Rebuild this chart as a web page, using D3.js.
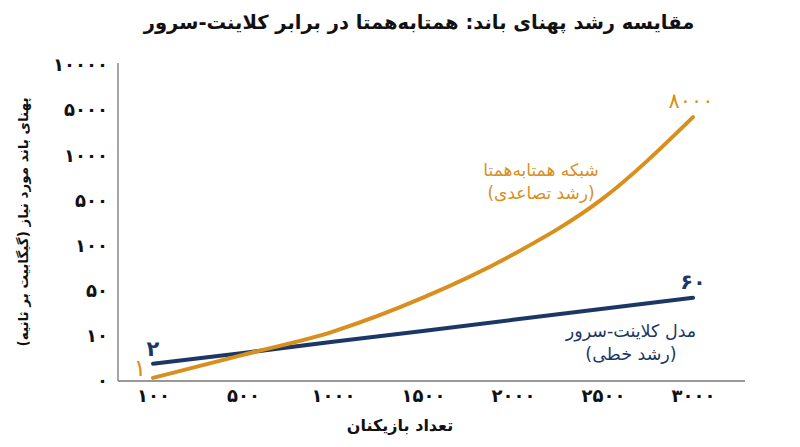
<!DOCTYPE html>
<html lang="fa">
<head>
<meta charset="utf-8">
<script src="https://cdn.jsdelivr.net/npm/d3@7"></script>
<style>
  body { margin: 0; background: #fff; }
  svg { display: block; font-family: "DejaVu Sans", sans-serif; }
</style>
</head>
<body>
<div id="chart"></div>
<script>
// data
var players = [100, 500, 1000, 1500, 2000, 2500, 3000];
var p2pValues = [0.7, 5.8, 13.8, 43.8, 90, 522, 4380];
var clientServerValues = [3.8, 6.2, 8.7, 14.4, 24.2, 34, 43.8];
var yTicks = [0, 10, 50, 100, 500, 1000, 5000, 10000];
var endLabels = { p2pStart: "1", p2pEnd: "8000", csStart: "2", csEnd: "60" };

var svgWidth = 800;
var svgHeight = 447;

var plot = { left: 118, right: 745, top: 65, bottom: 381 };

var orange = "#d88f1d";
var navy = "#1c3766";

// latin digits -> persian digits
function fa(v) {
  return String(v).replace(/[0-9]/g, d => "۰۱۲۳۴۵۶۷۸۹"[+d]);
}

var svg = d3.select("#chart")
  .append("svg")
  .attr("width", svgWidth)
  .attr("height", svgHeight);

// scales
var xScale = d3.scalePoint()
  .domain(players)
  .range([153, 693]);

// evenly spaced ticks, piecewise linear between them
var yScale = d3.scaleLinear()
  .domain(yTicks)
  .range(yTicks.map((d, i) => plot.bottom - i * (plot.bottom - plot.top) / (yTicks.length - 1)));

// title
svg.append("text")
  .attr("x", 419)
  .attr("y", 29)
  .attr("text-anchor", "middle")
  .style("font-size", "19.5px")
  .style("font-weight", "bold")
  .style("fill", "#111")
  .text("مقایسه رشد پهنای باند: همتابه‌همتا در برابر کلاینت-سرور");

// axes lines
svg.append("line")
  .attr("x1", plot.left).attr("x2", plot.left)
  .attr("y1", plot.top - 2).attr("y2", plot.bottom)
  .attr("stroke", "#777").attr("stroke-width", 1.3);

svg.append("line")
  .attr("x1", plot.left).attr("x2", plot.right)
  .attr("y1", plot.bottom).attr("y2", plot.bottom)
  .attr("stroke", "#777").attr("stroke-width", 1.3);

// axis labels via d3 axes
var leftAxis = d3.axisLeft(yScale)
  .tickValues(yTicks)
  .tickSize(0)
  .tickPadding(10)
  .tickFormat(fa);

var gy = svg.append("g")
  .attr("transform", `translate(${plot.left}, 0)`)
  .call(leftAxis);

gy.select(".domain").remove();
gy.selectAll("text")
  .style("font-family", "DejaVu Sans")
  .style("font-size", "18px")
  .style("letter-spacing", "-1px")
  .style("font-weight", "bold")
  .style("fill", "#111");

var bottomAxis = d3.axisBottom(xScale)
  .tickSize(0)
  .tickPadding(8)
  .tickFormat(fa);

var gx = svg.append("g")
  .attr("transform", `translate(0, ${plot.bottom})`)
  .call(bottomAxis);

gx.select(".domain").remove();
gx.selectAll("text")
  .style("font-family", "DejaVu Sans")
  .style("font-size", "18px")
  .style("letter-spacing", "-1px")
  .style("font-weight", "bold")
  .style("fill", "#111");

// axis titles
svg.append("text")
  .attr("transform", "translate(28, 222) rotate(-90)")
  .attr("text-anchor", "middle")
  .style("font-size", "13.5px")
  .style("font-weight", "bold")
  .style("fill", "#111")
  .text("پهنای باند مورد نیاز (گیگابیت بر ثانیه)");

svg.append("text")
  .attr("x", 400)
  .attr("y", 431)
  .attr("text-anchor", "middle")
  .style("font-size", "16px")
  .style("font-weight", "bold")
  .style("fill", "#111")
  .text("تعداد بازیکنان");

// lines
var p2pLine = d3.line()
  .x((d, i) => xScale(players[i]))
  .y(d => yScale(d))
  .curve(d3.curveMonotoneX);

var csLine = d3.line()
  .x((d, i) => xScale(players[i]))
  .y(d => yScale(d));

svg.append("path")
  .datum(clientServerValues)
  .attr("d", csLine)
  .attr("fill", "none")
  .attr("stroke", navy)
  .attr("stroke-width", 4)
  .attr("stroke-linecap", "round");

svg.append("path")
  .datum(p2pValues)
  .attr("d", p2pLine)
  .attr("fill", "none")
  .attr("stroke", orange)
  .attr("stroke-width", 4)
  .attr("stroke-linecap", "round");

// end point labels
var last = players.length - 1;

svg.append("text")
  .attr("x", xScale(players[0]) - 13)
  .attr("y", yScale(p2pValues[0]) - 2)
  .attr("text-anchor", "middle")
  .style("font-size", "24px")
  .style("fill", orange)
  .text(fa(endLabels.p2pStart));

svg.append("text")
  .attr("x", xScale(players[0]))
  .attr("y", yScale(clientServerValues[0]) - 8)
  .attr("text-anchor", "middle")
  .style("font-size", "21px")
  .style("font-weight", "bold")
  .style("fill", navy)
  .text(fa(endLabels.csStart));

svg.append("text")
  .attr("x", xScale(players[last]) - 2)
  .attr("y", yScale(p2pValues[last]) - 9)
  .attr("text-anchor", "middle")
  .style("font-size", "21px")
  .style("letter-spacing", "-0.5px")
  .style("fill", orange)
  .text(fa(endLabels.p2pEnd));

svg.append("text")
  .attr("x", xScale(players[last]))
  .attr("y", yScale(clientServerValues[last]) - 9)
  .attr("text-anchor", "middle")
  .style("font-size", "21px")
  .style("font-weight", "bold")
  .style("fill", navy)
  .text(fa(endLabels.csEnd));

// series labels
var p2pLabel = svg.append("text")
  .attr("text-anchor", "middle")
  .style("font-size", "17px")
  .style("fill", orange);
p2pLabel.append("tspan").attr("x", 541).attr("y", 176).text("شبکه همتابه‌همتا");
p2pLabel.append("tspan").attr("x", 541).attr("y", 199).text("(رشد تصاعدی)");

var csLabel = svg.append("text")
  .attr("text-anchor", "middle")
  .style("font-size", "17.5px")
  .style("fill", navy);
csLabel.append("tspan").attr("x", 631).attr("y", 337).text("مدل کلاینت-سرور");
csLabel.append("tspan").attr("x", 631).attr("y", 360).text("(رشد خطی)");
</script>
</body>
</html>
